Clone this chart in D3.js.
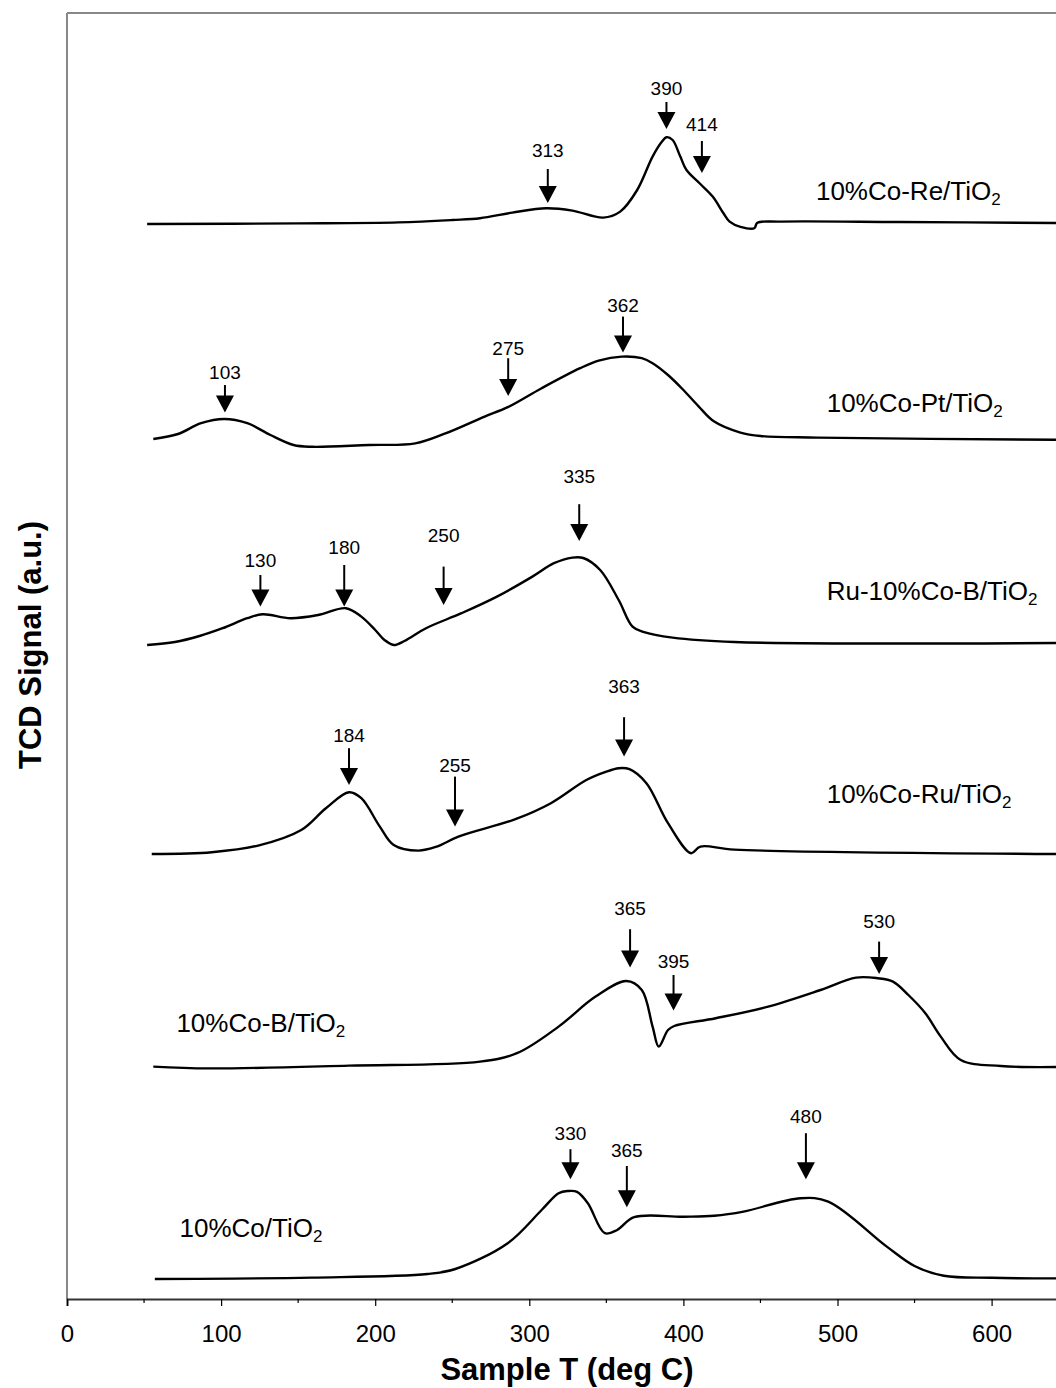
<!DOCTYPE html>
<html>
<head>
<meta charset="utf-8">
<script src="https://cdn.jsdelivr.net/npm/d3@7"></script>
<style>
  body { margin: 0; background: #fff; }
  svg { display: block; font-family: "Liberation Sans", Arial, sans-serif; }
</style>
</head>
<body>
<div id="chart"></div>
<script>
// ---- DATA (temperature in deg C, signal in a.u. above each trace's baseline) ----
const traceNames = ["10%Co-Re/TiO2", "10%Co-Pt/TiO2", "Ru-10%Co-B/TiO2", "10%Co-Ru/TiO2", "10%Co-B/TiO2", "10%Co/TiO2"];
const traceOffsets = [537.5, 430, 327, 222.5, 116, 10];

const coReT = [52, 150, 215, 250, 268, 289, 311, 328, 348, 359, 370, 380, 386, 389, 393, 398, 402, 411, 419, 426, 430, 437, 446, 448, 463, 540, 642];
const coReS = [0, 0.3, 0.8, 2, 2.9, 5.7, 7.9, 6.7, 3.2, 6.2, 17, 33.7, 41.1, 43.4, 42, 33.7, 27, 20, 13.7, 5.4, 1.2, -1.4, -2.1, 0.6, 1.2, 1, 0.5];

const coPtT = [56, 72, 87, 102, 117, 132, 147, 159, 196, 226, 246, 271, 286, 308, 333, 345, 360, 373, 380, 390, 400, 410, 420, 437, 450, 487, 642];
const coPtS = [0, 2.5, 7.9, 10, 7.9, 2, -3, -3.9, -3, -2.2, 2.9, 11.2, 15.9, 25.4, 35.4, 39.2, 41.2, 40.4, 37.9, 32, 24.5, 16.2, 8.7, 3.2, 1.5, 0.7, -0.4];

const ruCoBT = [52, 70, 86, 101, 117, 127, 145, 163, 181, 191, 200, 206, 212, 219, 233, 256, 279, 302, 316, 328, 335, 346, 358, 367, 374, 393, 433, 642];
const ruCoBS = [0, 1.5, 4.5, 8.4, 13.4, 15.4, 13.4, 15, 18.4, 14.2, 7.5, 2.5, 0, 2, 8.4, 15.9, 24.2, 34.2, 40.9, 43.7, 43.5, 37.5, 22.5, 9.2, 6.6, 3.7, 1.5, 1];

const coRuT = [55, 94, 124, 152, 168, 183, 191, 203, 212, 228, 240, 254, 291, 314, 337, 350, 358, 365, 376, 390, 405, 411, 433, 642];
const coRuS = [0, 0.9, 4.2, 12, 22.9, 30.9, 27.9, 13.7, 4.5, 1.7, 3.7, 8.7, 17.4, 25.4, 37, 41.2, 42.9, 42.4, 35.4, 15.4, 0.4, 3.7, 2.2, 0];

const coBT = [56, 92, 183, 268, 292, 319, 343, 363, 373, 380, 384, 390, 394, 421, 455, 489, 512, 526, 536, 546, 557, 567, 580, 606, 642];
const coBS = [0.2, -0.7, 0.7, 2.7, 6.9, 20.2, 35.2, 43, 38.5, 20.2, 10.2, 18.5, 20.5, 24.4, 30.2, 38.5, 44.7, 44.4, 42.7, 36, 26.9, 15.2, 3.5, 0.5, 0];

const coT = [57, 159, 234, 252, 286, 308, 319, 325, 331, 338, 349, 357, 368, 400, 420, 439, 476, 494, 532, 550, 569, 600, 642];
const coS = [0, 0.7, 2.5, 5, 17.9, 34.5, 42.9, 44, 43.6, 37.9, 22.9, 24.5, 30.9, 31.1, 31.6, 33.7, 40.4, 38.7, 16.2, 6.5, 1.6, 0.6, 0.3];

const traceT = [coReT, coPtT, ruCoBT, coRuT, coBT, coT];
const traceS = [coReS, coPtS, ruCoBS, coRuS, coBS, coS];

// trace label anchors (T, absolute signal)
const traceLabelT = [486, 493, 493, 493, 71, 73];
const traceLabelY = [549.5, 443.5, 349.5, 248, 133.5, 31];

// peak arrows (T where arrow points, tip / shaft top / label baseline in absolute signal)
const peakText = ["313", "390", "414", "103", "275", "362", "130", "180", "250", "335", "184", "255", "363", "365", "395", "530", "330", "365", "480"];
const peakT = [312, 389, 412, 102.5, 286.3, 360.8, 125.5, 179.9, 244.4, 332.4, 183, 251.8, 361.5, 365.4, 393.6, 527, 326.7, 363.3, 479.5];
const peakTip = [548, 585, 563, 443.2, 451.5, 473.2, 346.2, 346.2, 347, 379, 257, 236.2, 271.2, 165.7, 144.2, 162.5, 59.9, 45.9, 59.9];
const peakTop = [565, 598.5, 579, 457, 470.4, 491.2, 362, 367, 366.2, 397.4, 275.4, 261.2, 290.9, 184.9, 162, 178.7, 74.9, 66.5, 82.9];
const peakLabelY = [571, 602, 584, 459.9, 472, 493.7, 366.2, 372.5, 378.7, 407.9, 278.4, 263.7, 302.9, 192, 165.4, 185.4, 79.5, 71.2, 88];

const xTicks = [0, 100, 200, 300, 400, 500, 600];

// ---- LAYOUT ----
const svgWidth = 1056;
const svgHeight = 1388;
const plot = { left: 67, top: 13, bottom: 1299 };

const xScale = d3.scaleLinear().domain([0, 700]).range([plot.left, plot.left + 7 * 154.1]);
const yScale = d3.scaleLinear().domain([0, 643]).range([plot.bottom, plot.top]);

const svg = d3.select("#chart")
  .append("svg")
  .attr("width", svgWidth)
  .attr("height", svgHeight);

// PLOT FRAME (grey, open on the right because the figure is cut there)
svg.append("line")
  .attr("x1", plot.left).attr("x2", svgWidth)
  .attr("y1", plot.top).attr("y2", plot.top)
  .attr("stroke", "#888").attr("stroke-width", 2);
svg.append("line")
  .attr("x1", plot.left).attr("x2", plot.left)
  .attr("y1", plot.top).attr("y2", plot.bottom)
  .attr("stroke", "#888").attr("stroke-width", 2);

// X AXIS
const xAxis = d3.axisBottom(xScale)
  .tickValues(xTicks)
  .tickSize(7)
  .tickPadding(0)
  .tickFormat(d3.format("d"));

const gx = svg.append("g")
  .attr("transform", `translate(0,${plot.bottom})`)
  .call(xAxis);
gx.select(".domain").attr("stroke", "#333").attr("stroke-width", 2);
gx.selectAll(".tick line").attr("stroke", "#000").attr("stroke-width", 1.2);
gx.selectAll(".tick text")
  .attr("y", 43)
  .attr("dy", 0)
  .attr("fill", "#000")
  .style("font-size", "24px")
  .style("font-family", "'Liberation Sans', Arial, sans-serif");

// minor ticks every 50
gx.selectAll(".minor")
  .data(d3.range(50, 700, 100))
  .enter()
  .append("line")
  .attr("class", "minor")
  .attr("x1", d => xScale(d)).attr("x2", d => xScale(d))
  .attr("y1", 0).attr("y2", 4)
  .attr("stroke", "#000").attr("stroke-width", 1.2);

// AXIS TITLES
svg.append("text")
  .attr("x", 567)
  .attr("y", 1380)
  .attr("text-anchor", "middle")
  .style("font-size", "31px")
  .style("font-weight", "bold")
  .text("Sample T (deg C)");

svg.append("text")
  .attr("transform", "translate(41,645) rotate(-90)")
  .attr("text-anchor", "middle")
  .style("font-size", "31px")
  .style("font-weight", "bold")
  .text("TCD Signal (a.u.)");

// TRACES
const line = d3.line()
  .x(d => xScale(d[0]))
  .y(d => yScale(d[1]))
  .curve(d3.curveCatmullRom.alpha(0.5));

traceNames.forEach((name, i) => {
  const pts = traceT[i].map((t, j) => [t, traceS[i][j] + traceOffsets[i]]);
  svg.append("path")
    .datum(pts)
    .attr("fill", "none")
    .attr("stroke", "#000")
    .attr("stroke-width", 2.4)
    .attr("stroke-linejoin", "round")
    .attr("d", line);

  // label with subscript 2
  const label = svg.append("text")
    .attr("x", xScale(traceLabelT[i]))
    .attr("y", yScale(traceLabelY[i]))
    .style("font-size", "26px");
  label.append("tspan").text(name.slice(0, -1));
  label.append("tspan")
    .attr("dy", 5)
    .style("font-size", "17px")
    .text(name.slice(-1));
});

// PEAK ARROWS
const headH = 17;
const headW = 9;
peakText.forEach((txt, i) => {
  const x = xScale(peakT[i]);
  const tip = yScale(peakTip[i]);
  const top = yScale(peakTop[i]);
  svg.append("line")
    .attr("x1", x).attr("x2", x)
    .attr("y1", top).attr("y2", tip - headH + 1)
    .attr("stroke", "#000").attr("stroke-width", 2);
  svg.append("path")
    .attr("d", `M${x - headW},${tip - headH}L${x + headW},${tip - headH}L${x},${tip}Z`)
    .attr("fill", "#000");
  svg.append("text")
    .attr("x", x)
    .attr("y", yScale(peakLabelY[i]))
    .attr("text-anchor", "middle")
    .style("font-size", "19px")
    .text(txt);
});
</script>
</body>
</html>
